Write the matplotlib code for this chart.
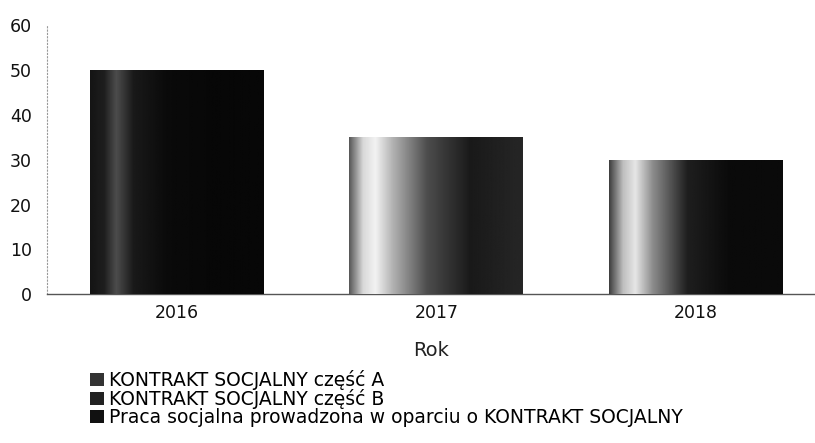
import matplotlib.pyplot as plt
import numpy as np
from matplotlib.patches import Patch

plt.rcParams.update({'font.family': 'DejaVu Sans',
                     'font.size': 12})

years = ['2016', '2017', '2018']
values = [50, 35, 30]
series = ['KONTRAKT SOCJALNY część A',
          'KONTRAKT SOCJALNY część B',
          'Praca socjalna prowadzona w oparciu o KONTRAKT SOCJALNY']

# scanned-look shading across each bar (left -> right), 0 = black, 1 = white
shade_pos = [0.0, 0.08, 0.15, 0.25, 0.45, 0.7, 1.0]
shades = [[0.08, 0.12, 0.30, 0.10, 0.04, 0.03, 0.03],
          [0.35, 0.85, 0.95, 0.70, 0.30, 0.10, 0.15],
          [0.25, 0.75, 0.90, 0.55, 0.12, 0.04, 0.04]]

fig = plt.figure(figsize=(8.15, 4.43), dpi=100)
ax = fig.add_axes([0.058, 0.336, 0.942, 0.607])

x = np.arange(len(years))
bars = ax.bar(x, values, width=0.67, color='#111111', zorder=2)

xs = np.linspace(0, 1, 200)
for b, sh in zip(bars, shades):
    prof = np.interp(xs, shade_pos, sh)
    x0, w, h = b.get_x(), b.get_width(), b.get_height()
    im = ax.imshow(prof[np.newaxis, :], cmap='gray', vmin=0, vmax=1,
                   extent=[x0, x0 + w, 0, h], aspect='auto', zorder=3)
    im.set_clip_path(b)

ax.set_xlim(-0.5, 2.46)
ax.set_ylim(0, 60)
ax.set_yticks(range(0, 61, 10))
ax.set_xticks(x)
ax.set_xticklabels(years)

for s in ['top', 'right']:
    ax.spines[s].set_visible(False)
ax.spines['left'].set_linestyle((0, (1, 2)))
ax.spines['left'].set_color('#999999')
ax.spines['left'].set_linewidth(0.8)
ax.spines['bottom'].set_color('#555555')
ax.spines['bottom'].set_linewidth(1.0)
ax.tick_params(axis='both', length=0, labelsize=12.5, colors='#111111')
ax.tick_params(axis='x', pad=7)
ax.tick_params(axis='y', pad=11)
ax.set_xlabel('Rok', fontsize=14, color='#222222', labelpad=14)

handles = [Patch(facecolor=c, edgecolor='none') for c in ['#333333', '#222222', '#111111']]
fig.legend(handles, series, loc='upper left', bbox_to_anchor=(0.111, 0.164),
           frameon=False, fontsize=13.5, handlelength=0.7, handleheight=0.7,
           handletextpad=0.3, labelspacing=-0.05, borderpad=0, borderaxespad=0)

fig.savefig('out.png', dpi=100)
